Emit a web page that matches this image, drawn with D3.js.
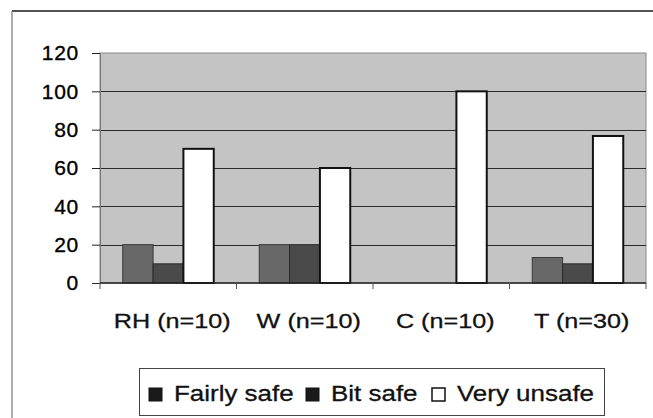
<!DOCTYPE html>
<html><head><meta charset="utf-8">
<script src="https://cdn.jsdelivr.net/npm/d3@7"></script>
<style>
html,body{margin:0;padding:0;background:#fff;}
svg{display:block;font-family:"Liberation Sans",Arial,sans-serif;}
</style></head>
<body>
<svg id="chart" width="653" height="418"></svg>
<script>
const categories = ["RH (n=10)", "W (n=10)", "C (n=10)", "T (n=30)"];
const seriesNames = ["Fairly safe", "Bit safe", "Very unsafe"];
const fairlySafe = [20, 20, 0, 13.3];
const bitSafe = [10, 20, 0, 10];
const veryUnsafe = [70, 60, 100, 76.7];
const yTicks = [0, 20, 40, 60, 80, 100, 120];
const seriesFill = ["#686868", "#4a4a4a", "#ffffff"];
const seriesStroke = ["#3a3a3a", "#2a2a2a", "#111111"];

const svg = d3.select("#chart");
const plot = {left: 100, right: 646, top: 53, bottom: 283};

// outer frame (scanned border)
svg.append("line").attr("x1", 12).attr("x2", 653).attr("y1", 11).attr("y2", 11)
  .attr("stroke", "#1a1a1a").attr("stroke-width", 1.6);
svg.append("line").attr("x1", 12).attr("x2", 12).attr("y1", 11).attr("y2", 418)
  .attr("stroke", "#777").attr("stroke-width", 1.2);

const x0 = d3.scaleBand().domain(categories).range([plot.left, plot.right]).padding(0);
const x1 = d3.scaleBand().domain(seriesNames).range([0, x0.bandwidth()]).paddingInner(0).paddingOuter(0.75);
const y = d3.scaleLinear().domain([0, 120]).range([plot.bottom, plot.top]);

// plot background
svg.append("rect").attr("x", plot.left).attr("y", plot.top)
  .attr("width", plot.right - plot.left).attr("height", plot.bottom - plot.top)
  .attr("fill", "#c4c4c4").attr("stroke", "#8a8a8a").attr("stroke-width", 1);

// gridlines
svg.append("g").selectAll("line").data(yTicks.filter(t => t > 0 && t < 120)).join("line")
  .attr("x1", plot.left).attr("x2", plot.right)
  .attr("y1", d => Math.round(y(d)) + 0.5).attr("y2", d => Math.round(y(d)) + 0.5)
  .attr("stroke", "#2a2a2a").attr("stroke-width", 1);

// bars
const seriesData = [fairlySafe, bitSafe, veryUnsafe];
seriesNames.forEach((s, si) => {
  svg.append("g").selectAll("rect").data(categories.map((c, i) => ({c, v: seriesData[si][i]})).filter(d => d.v > 0))
    .join("rect")
    .attr("x", d => x0(d.c) + x1(s))
    .attr("y", d => y(d.v))
    .attr("width", x1.bandwidth())
    .attr("height", d => y(0) - y(d.v))
    .attr("fill", seriesFill[si])
    .attr("stroke", seriesStroke[si])
    .attr("stroke-width", si === 2 ? 2 : 1);
});

// y axis
const yAxis = d3.axisLeft(y).tickValues(yTicks).tickSize(8).tickPadding(13).tickSizeOuter(0);
const gy = svg.append("g").attr("transform", `translate(${plot.left},0)`).call(yAxis);
gy.select(".domain").attr("stroke", "#777");
gy.selectAll(".tick line").attr("stroke", "#222");
gy.selectAll("text").attr("font-size", 21).attr("fill", "#000")
  .attr("font-family", "'Liberation Sans', Arial, sans-serif").attr("letter-spacing", 0.7)
  .attr("stroke", "#000").attr("stroke-width", 0.35);

// x axis
const boundaries = categories.map(c => x0(c)).concat([plot.right]);
svg.append("line").attr("x1", plot.left).attr("x2", plot.right)
  .attr("y1", plot.bottom).attr("y2", plot.bottom).attr("stroke", "#222").attr("stroke-width", 1.5);
svg.append("g").selectAll("line").data(boundaries).join("line")
  .attr("x1", d => d).attr("x2", d => d).attr("y1", plot.bottom).attr("y2", plot.bottom + 6)
  .attr("stroke", "#555");
svg.append("g").selectAll("text").data(categories).join("text")
  .attr("transform", d => `translate(${x0(d) + x0.bandwidth() / 2 + 4},328) scale(1.2,1)`)
  .attr("text-anchor", "middle")
  .attr("font-size", 21).attr("fill", "#111").attr("stroke", "#111").attr("stroke-width", 0.3)
  .text(d => d);

// legend
const lg = svg.append("g");
lg.append("rect").attr("x", 139.5).attr("y", 368.5).attr("width", 465).attr("height", 47)
  .attr("fill", "#fff").attr("stroke", "#444").attr("stroke-width", 1);
const legendX = [149, 306, 432];
seriesNames.forEach((s, i) => {
  lg.append("rect").attr("x", legendX[i]).attr("y", 388).attr("width", 13).attr("height", 13)
    .attr("fill", i === 2 ? "#fff" : "#1a1a1a").attr("stroke", "#111").attr("stroke-width", i === 2 ? 1.5 : 1);
  lg.append("text").attr("transform", `translate(${legendX[i] + 25},401) scale(1.18,1)`)
    .attr("font-size", 22).attr("fill", "#111").attr("stroke", "#111").attr("stroke-width", 0.3).text(s);
});
</script>
</body></html>
